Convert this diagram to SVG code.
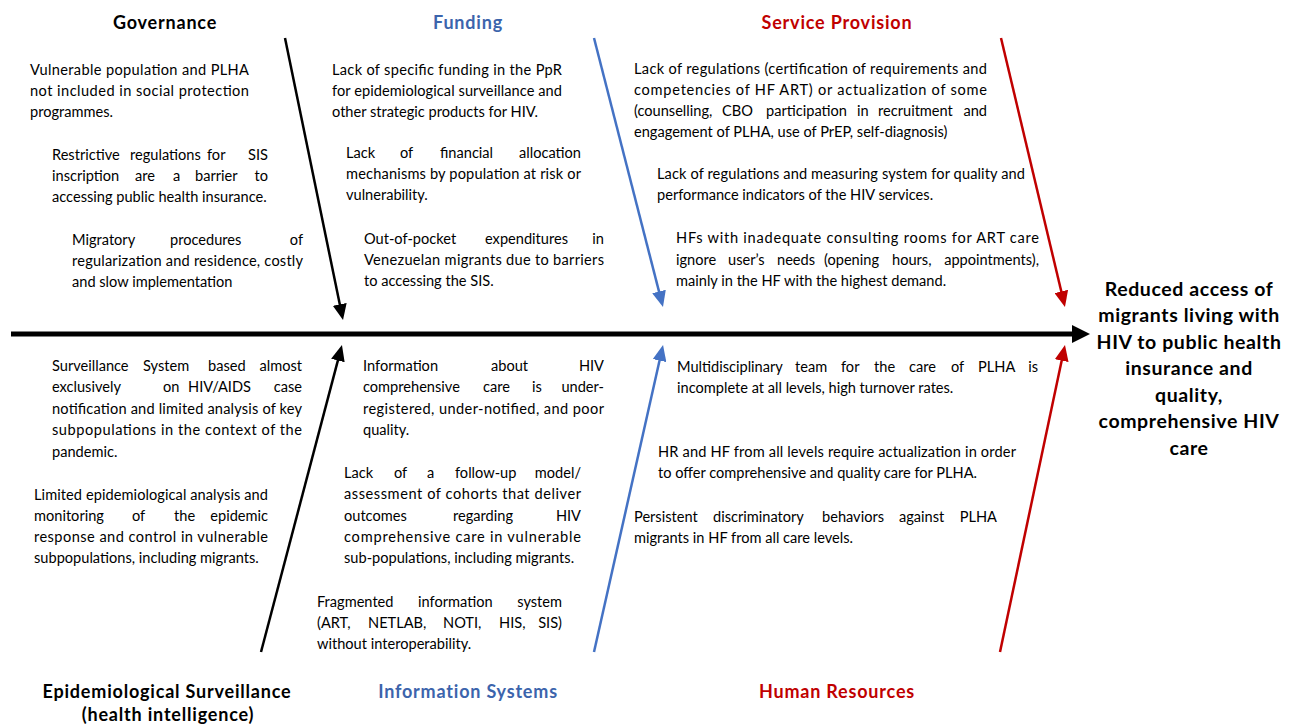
<svg xmlns="http://www.w3.org/2000/svg" width="1295" height="726" viewBox="0 0 1295 726">
  <style>
    text { font-family: Lato, "Liberation Sans", sans-serif; font-size: 14.6px; fill: #000; }
    .h { font-weight: bold; font-size: 18px; letter-spacing: 0.8px; text-anchor: middle; }
    .blue { fill: #3C64AC; }
    .red { fill: #C00000; }
    .effect { font-weight: bold; font-size: 19.5px; letter-spacing: 0.6px; text-anchor: middle; fill: #000; }
    .e { text-anchor: end; }
    .bone { stroke-width: 2.5; fill: none; }
  </style>
  <defs>
    <marker id="ah-black" markerUnits="userSpaceOnUse" markerWidth="16" markerHeight="14" refX="4" refY="7" orient="auto">
      <path d="M0,0 L16,7 L0,14 z" fill="#000"/>
    </marker>
    <marker id="ah-blue" markerUnits="userSpaceOnUse" markerWidth="16" markerHeight="14" refX="4" refY="7" orient="auto">
      <path d="M0,0 L16,7 L0,14 z" fill="#4472C4"/>
    </marker>
    <marker id="ah-red" markerUnits="userSpaceOnUse" markerWidth="16" markerHeight="14" refX="4" refY="7" orient="auto">
      <path d="M0,0 L16,7 L0,14 z" fill="#C00000"/>
    </marker>
    <marker id="ah-spine" markerUnits="userSpaceOnUse" markerWidth="18" markerHeight="18" refX="4" refY="9" orient="auto">
      <path d="M0,0 L18,9 L0,18 z" fill="#000"/>
    </marker>
  </defs>
  <rect width="1295" height="726" fill="#fff"/>

  <!-- spine and category bones -->
  <g id="connectors">
    <line x1="11" y1="334" x2="1076" y2="334" stroke="#000" stroke-width="5" marker-end="url(#ah-spine)"/>
    <line class="bone" x1="285" y1="38" x2="340.6" y2="308.3" stroke="#000" marker-end="url(#ah-black)"/>
    <line class="bone" x1="261" y1="652" x2="338.9" y2="356.6" stroke="#000" marker-end="url(#ah-black)"/>
    <line class="bone" x1="594" y1="38" x2="660.0" y2="295.4" stroke="#4472C4" marker-end="url(#ah-blue)"/>
    <line class="bone" x1="594" y1="652" x2="660.4" y2="356.7" stroke="#4472C4" marker-end="url(#ah-blue)"/>
    <line class="bone" x1="1001" y1="38" x2="1062.2" y2="295.3" stroke="#C00000" marker-end="url(#ah-red)"/>
    <line class="bone" x1="1000" y1="652" x2="1062.5" y2="356.7" stroke="#C00000" marker-end="url(#ah-red)"/>
  </g>

  <!-- Governance -->
  <g id="governance">
    <text class="h" x="165" y="29">Governance</text>
    <text x="30" y="75" textLength="219" lengthAdjust="spacing">Vulnerable population and PLHA</text>
    <text x="30" y="96" textLength="219" lengthAdjust="spacing">not included in social protection</text>
    <text x="30" y="117">programmes.</text>
    <text y="160"><tspan x="52">Restrictive</tspan><tspan x="130">regulations</tspan><tspan x="207">for</tspan><tspan class="e" x="268">SIS</tspan></text>
    <text y="181"><tspan x="52">inscription</tspan><tspan x="135">are</tspan><tspan x="173">a</tspan><tspan x="195">barrier</tspan><tspan class="e" x="268">to</tspan></text>
    <text x="52" y="202">accessing public health insurance.</text>
    <text y="245"><tspan x="72">Migratory</tspan><tspan x="170">procedures</tspan><tspan class="e" x="303">of</tspan></text>
    <text x="72" y="266" textLength="231" lengthAdjust="spacing">regularization and residence, costly</text>
    <text x="72" y="287">and slow implementation</text>
  </g>

  <!-- Funding -->
  <g id="funding">
    <text class="h blue" x="468" y="29">Funding</text>
    <text x="332" y="75" textLength="230" lengthAdjust="spacing">Lack of specific funding in the PpR</text>
    <text x="332" y="96" textLength="230" lengthAdjust="spacing">for epidemiological surveillance and</text>
    <text x="332" y="117">other strategic products for HIV.</text>
    <text y="158"><tspan x="346">Lack</tspan><tspan x="400">of</tspan><tspan x="440">financial</tspan><tspan class="e" x="581">allocation</tspan></text>
    <text x="346" y="179" textLength="235" lengthAdjust="spacing">mechanisms by population at risk or</text>
    <text x="346" y="200">vulnerability.</text>
    <text y="244"><tspan x="364">Out-of-pocket</tspan><tspan x="485">expenditures</tspan><tspan class="e" x="604">in</tspan></text>
    <text x="364" y="265" textLength="240" lengthAdjust="spacing">Venezuelan migrants due to barriers</text>
    <text x="364" y="286">to accessing the SIS.</text>
  </g>

  <!-- Service Provision -->
  <g id="service-provision">
    <text class="h red" x="837" y="29">Service Provision</text>
    <text x="634" y="74" textLength="353" lengthAdjust="spacing">Lack of regulations (certification of requirements and</text>
    <text x="634" y="95" textLength="353" lengthAdjust="spacing">competencies of HF ART) or actualization of some</text>
    <text y="116"><tspan x="634">(counselling,</tspan><tspan x="722">CBO</tspan><tspan x="766">participation</tspan><tspan x="857">in</tspan><tspan x="878">recruitment</tspan><tspan class="e" x="987">and</tspan></text>
    <text x="634" y="137">engagement of PLHA, use of PrEP, self-diagnosis)</text>
    <text x="657" y="179" textLength="368" lengthAdjust="spacing">Lack of regulations and measuring system for quality and</text>
    <text x="657" y="200">performance indicators of the HIV services.</text>
    <text x="676" y="243" textLength="363" lengthAdjust="spacing">HFs with inadequate consulting rooms for ART care</text>
    <text y="265"><tspan x="676">ignore</tspan><tspan x="728">user’s</tspan><tspan x="777">needs</tspan><tspan x="824">(opening</tspan><tspan x="892">hours,</tspan><tspan class="e" x="1039">appointments),</tspan></text>
    <text x="676" y="286">mainly in the HF with the highest demand.</text>
  </g>

  <!-- Epidemiological Surveillance -->
  <g id="epidemiological-surveillance">
    <text y="371"><tspan x="52">Surveillance</tspan><tspan x="143">System</tspan><tspan x="208">based</tspan><tspan class="e" x="302">almost</tspan></text>
    <text y="392"><tspan x="52">exclusively</tspan><tspan x="163">on</tspan><tspan x="188">HIV/AIDS</tspan><tspan class="e" x="302">case</tspan></text>
    <text x="52" y="414" textLength="250" lengthAdjust="spacing">notification and limited analysis of key</text>
    <text x="52" y="435" textLength="250" lengthAdjust="spacing">subpopulations in the context of the</text>
    <text x="52" y="457">pandemic.</text>
    <text x="34" y="500" textLength="234" lengthAdjust="spacing">Limited epidemiological analysis and</text>
    <text y="521"><tspan x="34">monitoring</tspan><tspan x="132">of</tspan><tspan x="174">the</tspan><tspan class="e" x="268">epidemic</tspan></text>
    <text x="34" y="542" textLength="234" lengthAdjust="spacing">response and control in vulnerable</text>
    <text x="34" y="563">subpopulations, including migrants.</text>
    <text class="h" x="167" y="698">Epidemiological Surveillance</text>
    <text class="h" x="168" y="721">(health intelligence)</text>
  </g>

  <!-- Information Systems -->
  <g id="information-systems">
    <text y="371"><tspan x="363">Information</tspan><tspan x="491">about</tspan><tspan class="e" x="604">HIV</tspan></text>
    <text y="392"><tspan x="363">comprehensive</tspan><tspan x="483">care</tspan><tspan x="532">is</tspan><tspan class="e" x="604">under-</tspan></text>
    <text x="363" y="414" textLength="241" lengthAdjust="spacing">registered, under-notified, and poor</text>
    <text x="363" y="435">quality.</text>
    <text y="478"><tspan x="344">Lack</tspan><tspan x="394">of</tspan><tspan x="427">a</tspan><tspan x="455">follow-up</tspan><tspan class="e" x="581">model/</tspan></text>
    <text x="344" y="499" textLength="237" lengthAdjust="spacing">assessment of cohorts that deliver</text>
    <text y="521"><tspan x="344">outcomes</tspan><tspan x="453">regarding</tspan><tspan class="e" x="581">HIV</tspan></text>
    <text x="344" y="542" textLength="237" lengthAdjust="spacing">comprehensive care in vulnerable</text>
    <text x="344" y="563">sub-populations, including migrants.</text>
    <text y="607"><tspan x="317">Fragmented</tspan><tspan x="418">information</tspan><tspan class="e" x="562">system</tspan></text>
    <text y="628"><tspan x="317">(ART,</tspan><tspan x="368">NETLAB,</tspan><tspan x="443">NOTI,</tspan><tspan x="499">HIS,</tspan><tspan class="e" x="562">SIS)</tspan></text>
    <text x="317" y="649">without interoperability.</text>
    <text class="h blue" x="468" y="698">Information Systems</text>
  </g>

  <!-- Human Resources -->
  <g id="human-resources">
    <text y="372"><tspan x="677">Multidisciplinary</tspan><tspan x="795">team</tspan><tspan x="841">for</tspan><tspan x="874">the</tspan><tspan x="909">care</tspan><tspan x="951">of</tspan><tspan x="978">PLHA</tspan><tspan class="e" x="1038">is</tspan></text>
    <text x="677" y="393">incomplete at all levels, high turnover rates.</text>
    <text x="658" y="457" textLength="358" lengthAdjust="spacing">HR and HF from all levels require actualization in order</text>
    <text x="658" y="478">to offer comprehensive and quality care for PLHA.</text>
    <text y="522"><tspan x="634">Persistent</tspan><tspan x="713">discriminatory</tspan><tspan x="822">behaviors</tspan><tspan x="899">against</tspan><tspan class="e" x="997">PLHA</tspan></text>
    <text x="634" y="543">migrants in HF from all care levels.</text>
    <text class="h red" x="837" y="698">Human Resources</text>
  </g>

  <!-- Effect (fish head) -->
  <g id="effect">
    <text class="effect" x="1189" y="296">Reduced access of</text>
    <text class="effect" x="1189" y="322">migrants living with</text>
    <text class="effect" x="1189" y="349">HIV to public health</text>
    <text class="effect" x="1189" y="375">insurance and</text>
    <text class="effect" x="1189" y="402">quality,</text>
    <text class="effect" x="1189" y="428">comprehensive HIV</text>
    <text class="effect" x="1189" y="455">care</text>
  </g>
</svg>
